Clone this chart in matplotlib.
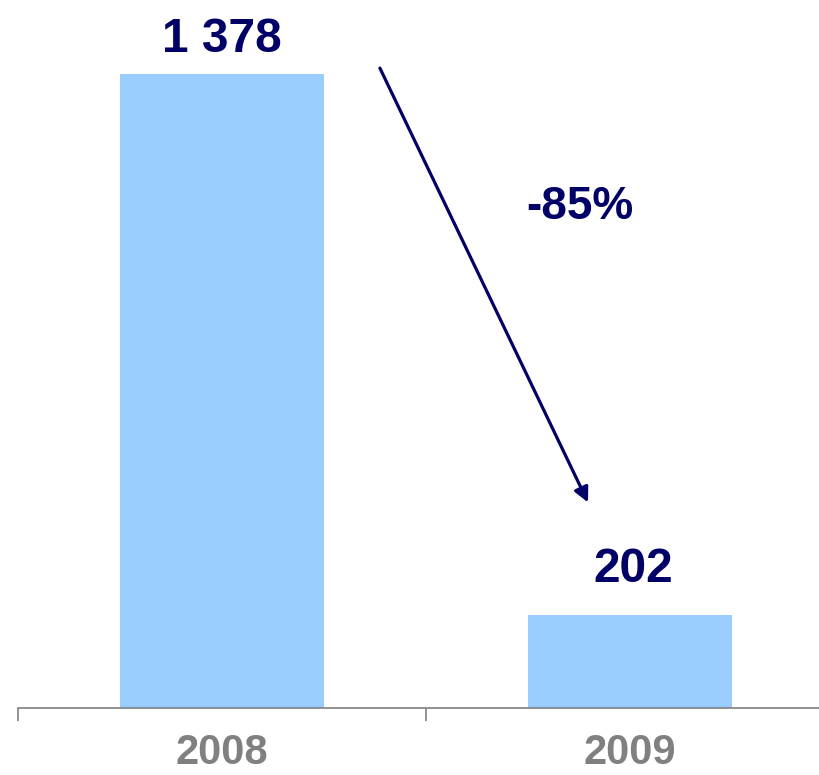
import matplotlib
matplotlib.use("Agg")
import matplotlib.pyplot as plt

years = ["2008", "2009"]
values = [1378, 202]
value_labels = ["1 378", "202"]

navy = "#000066"
bar_color = "#99CCFF"
grey = "#808080"

plt.rcParams['font.family'] = ['Liberation Sans', 'DejaVu Sans']

fig = plt.figure(figsize=(8.2, 7.75), dpi=100)
# axes runs past the right edge of the picture like the original slide
ax = fig.add_axes([18 / 820, 67 / 775, 816 / 820, 708 / 775])
ax.set_xlim(-0.5, 1.5)
ax.set_ylim(0, 1539)

x = list(range(len(years)))
ax.bar(x, values, width=0.5, color=bar_color, zorder=2)

# value labels above the bars
offsets = [16, 24]
for i, v in enumerate(values):
    ax.annotate(value_labels[i], xy=(i, v), xytext=(2 * i, offsets[i]),
                textcoords="offset points", ha="center", va="baseline",
                fontsize=34.5, fontweight="bold", color=navy)

# change arrow
change = (values[1] - values[0]) / values[0] * 100
ax.annotate("", xy=(0.897, 447), xytext=(0.387, 1391),
            arrowprops=dict(arrowstyle="-|>", color=navy, lw=2.3,
                            mutation_scale=22, shrinkA=0, shrinkB=0))
ax.text(0.877, 1090, f"{change:.0f}%", ha="center", va="center",
        fontsize=33, fontweight="bold", color=navy)

# axis styling
for s in ["top", "right", "left"]:
    ax.spines[s].set_visible(False)
ax.spines["bottom"].set_color(grey)
ax.spines["bottom"].set_linewidth(1.2)
ax.set_yticks([])
ax.set_xticks([-0.5, 0.5, 1.5])
ax.set_xticklabels([])
ax.tick_params(axis="x", which="major", direction="out", length=9.5,
               width=1.2, color=grey)
ax.set_xticks(x, minor=True)
ax.set_xticklabels(years, minor=True)
ax.tick_params(axis="x", which="minor", length=0, pad=18,
               labelsize=30, labelcolor=grey)
for lbl in ax.get_xticklabels(minor=True):
    lbl.set_fontweight("bold")

fig.savefig("out.png", dpi=100)
